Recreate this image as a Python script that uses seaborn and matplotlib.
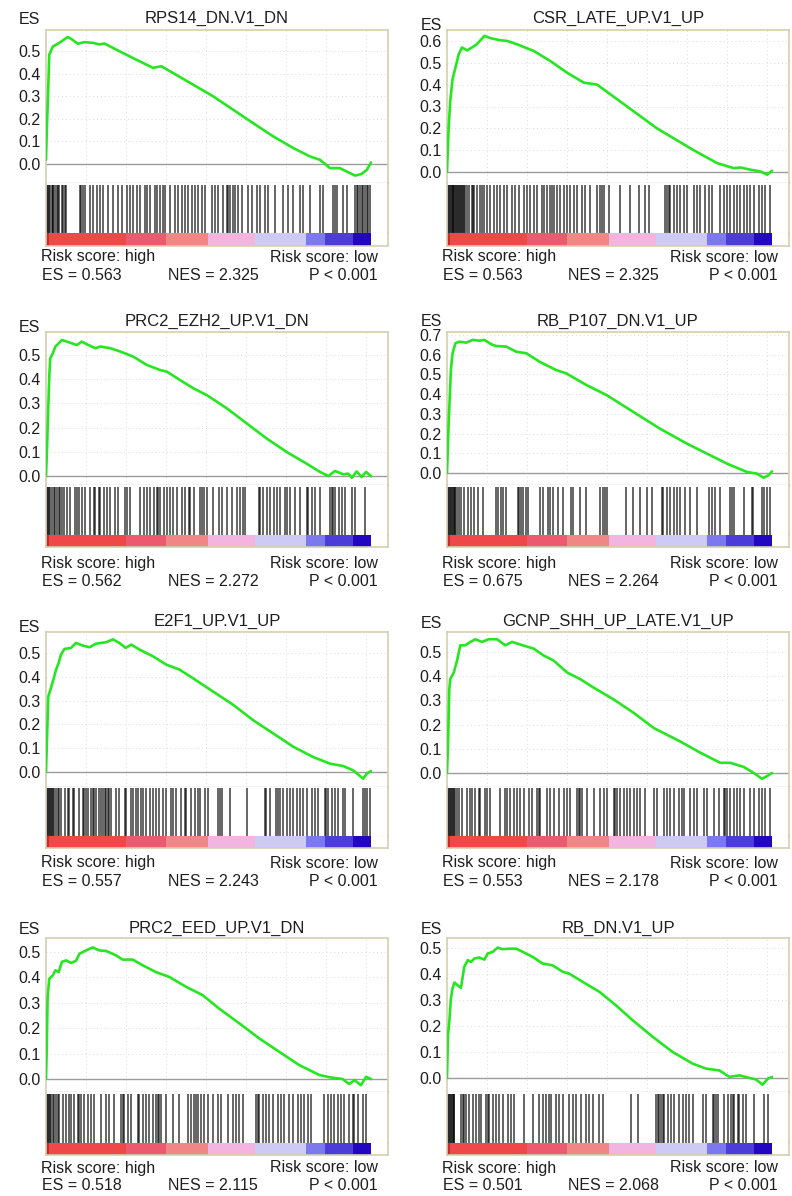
import numpy as np
import matplotlib
matplotlib.use("Agg")
import matplotlib.pyplot as plt
from matplotlib.colors import ListedColormap
import seaborn as sns

sns.set_theme(style="white")
plt.rcParams["font.family"] = ["Liberation Sans", "DejaVu Sans"]

# ---------------------------------------------------------------- data
gene_sets = ["RPS14_DN.V1_DN", "CSR_LATE_UP.V1_UP", "PRC2_EZH2_UP.V1_DN", "RB_P107_DN.V1_UP",
             "E2F1_UP.V1_UP", "GCNP_SHH_UP_LATE.V1_UP", "PRC2_EED_UP.V1_DN", "RB_DN.V1_UP"]
es_labels = ["0.563", "0.563", "0.562", "0.675", "0.557", "0.553", "0.518", "0.501"]
nes_labels = ["2.325", "2.325", "2.272", "2.264", "2.243", "2.178", "2.115", "2.068"]
p_label = "P < 0.001"
side_labels = ["Risk score: high", "Risk score: low"]
y_tick_top = [0.5, 0.6, 0.5, 0.7, 0.5, 0.5, 0.5, 0.5]
y_limits = [(-0.085, 0.594), (-0.05, 0.65), (-0.037, 0.595), (-0.061, 0.715),
            (-0.063, 0.588), (-0.058, 0.583), (-0.051, 0.555), (-0.054, 0.538)]

# running enrichment score (rank position in a list scaled to 0..1000)
rps14_rank = [0, 3, 7, 10, 21, 41, 67, 77, 98, 118, 144, 164, 180, 216, 267, 298, 329, 355, 390,
              452, 514, 576, 637, 699, 761, 812, 843, 874, 904, 925, 951, 971, 987, 1000]
rps14_es = [0.018, 0.17, 0.34, 0.485, 0.52, 0.537, 0.563, 0.555, 0.533, 0.54, 0.537, 0.53, 0.534,
            0.507, 0.47, 0.448, 0.426, 0.433, 0.404, 0.352, 0.30, 0.24, 0.181, 0.122, 0.07, 0.033,
            0.018, -0.019, -0.019, -0.034, -0.052, -0.045, -0.027, 0.006]
csr_rank = [0, 5, 10, 17, 26, 36, 46, 62, 77, 92, 103, 115, 133, 164, 185, 215, 267, 318, 369, 421,
            462, 554, 646, 759, 831, 882, 903, 933, 964, 985, 1000]
csr_es = [0.0, 0.20, 0.325, 0.424, 0.478, 0.539, 0.57, 0.557, 0.57, 0.585, 0.603, 0.623, 0.613,
          0.603, 0.60, 0.585, 0.554, 0.508, 0.455, 0.409, 0.40, 0.30, 0.20, 0.10, 0.041, 0.018,
          0.021, 0.011, 0.003, -0.012, 0.006]
ezh2_rank = [0, 3, 6, 10, 13, 21, 29, 39, 49, 65, 95, 110, 131, 152, 167, 198, 229, 269, 310, 351,
             372, 413, 454, 495, 557, 618, 679, 741, 802, 843, 869, 889, 915, 930, 941, 956, 971,
             985, 1000]
ezh2_es = [0.0, 0.106, 0.244, 0.41, 0.486, 0.507, 0.535, 0.548, 0.562, 0.555, 0.541, 0.555, 0.541,
           0.528, 0.535, 0.528, 0.514, 0.493, 0.459, 0.438, 0.431, 0.396, 0.362, 0.334, 0.279,
           0.217, 0.155, 0.099, 0.051, 0.017, 0.0, 0.021, 0.007, 0.01, -0.007, 0.019, -0.004,
           0.017, -0.001]
p107_rank = [0, 2, 5, 9, 12, 17, 26, 38, 59, 79, 100, 115, 136, 151, 182, 213, 244, 285, 336, 367,
             429, 491, 573, 655, 738, 800, 862, 923, 953, 974, 989, 1000]
p107_es = [0.0, 0.098, 0.251, 0.403, 0.522, 0.607, 0.658, 0.666, 0.661, 0.675, 0.671, 0.675, 0.653,
           0.644, 0.641, 0.615, 0.607, 0.564, 0.522, 0.505, 0.446, 0.395, 0.31, 0.225, 0.149,
           0.098, 0.047, 0.005, -0.003, -0.024, -0.012, 0.008]
e2f1_rank = [0, 3, 7, 15, 24, 31, 39, 46, 57, 77, 92, 113, 134, 154, 185, 206, 226, 245, 262, 288,
             329, 370, 411, 452, 514, 576, 637, 699, 761, 822, 874, 915, 945, 976, 987, 1000]
e2f1_es = [0.0, 0.134, 0.317, 0.352, 0.394, 0.43, 0.458, 0.493, 0.517, 0.521, 0.542, 0.531, 0.524,
           0.539, 0.545, 0.557, 0.542, 0.521, 0.535, 0.514, 0.486, 0.451, 0.43, 0.394, 0.338,
           0.282, 0.218, 0.162, 0.106, 0.063, 0.035, 0.025, 0.007, -0.028, -0.007, 0.004]
gcnp_rank = [0, 3, 7, 10, 21, 31, 41, 56, 72, 87, 108, 128, 154, 179, 200, 226, 267, 297, 328, 369,
             410, 451, 513, 574, 636, 718, 779, 841, 872, 913, 944, 969, 985, 1000]
gcnp_es = [0.0, 0.109, 0.346, 0.388, 0.416, 0.465, 0.528, 0.528, 0.542, 0.553, 0.542, 0.553, 0.553,
           0.528, 0.542, 0.531, 0.514, 0.486, 0.465, 0.416, 0.388, 0.353, 0.304, 0.249, 0.186,
           0.13, 0.084, 0.042, 0.042, 0.025, 0.0, -0.024, -0.013, 0.0]
eed_rank = [0, 2, 5, 10, 21, 29, 39, 49, 62, 77, 92, 103, 123, 144, 164, 185, 215, 236, 267, 297,
            338, 379, 431, 482, 533, 595, 656, 718, 779, 841, 872, 913, 933, 949, 969, 985, 1000]
eed_es = [0.0, 0.1, 0.323, 0.395, 0.408, 0.428, 0.421, 0.461, 0.467, 0.457, 0.465, 0.493, 0.506,
          0.518, 0.506, 0.504, 0.487, 0.47, 0.47, 0.448, 0.421, 0.402, 0.363, 0.33, 0.277, 0.219,
          0.16, 0.107, 0.055, 0.016, 0.007, 0.0, -0.02, -0.004, -0.024, 0.009, 0.0]
rbdn_rank = [0, 3, 7, 12, 17, 23, 33, 43, 53, 64, 74, 84, 99, 115, 125, 141, 156, 171, 192, 212,
             233, 264, 294, 325, 356, 376, 418, 469, 520, 571, 633, 694, 756, 797, 838, 869, 900,
             931, 951, 971, 987, 1000]
rbdn_es = [0.0, 0.164, 0.215, 0.305, 0.344, 0.367, 0.356, 0.346, 0.427, 0.453, 0.446, 0.459, 0.463,
           0.455, 0.478, 0.485, 0.501, 0.495, 0.497, 0.497, 0.485, 0.465, 0.44, 0.433, 0.408,
           0.401, 0.369, 0.331, 0.279, 0.222, 0.158, 0.1, 0.055, 0.036, 0.029, 0.004, 0.01, 0.0,
           -0.006, -0.026, -0.003, 0.004]

# positions of gene-set members in the ranked list
rps14_hits = [4, 7, 10, 12, 17, 21, 23, 28, 33, 37, 41, 49, 53, 58, 62, 105, 108, 115, 120, 135,
              146, 156, 166, 176, 192, 207, 223, 233, 248, 258, 269, 279, 289, 305, 310, 320, 335,
              341, 351, 361, 366, 382, 397, 407, 417, 428, 438, 448, 458, 469, 479, 489, 510, 520,
              530, 546, 556, 561, 566, 576, 582, 592, 602, 623, 633, 648, 658, 674, 684, 705, 730,
              746, 761, 782, 792, 812, 843, 853, 884, 889, 894, 915, 925, 951, 956, 961, 966, 971,
              976, 982, 987, 992, 997]
csr_hits = [3, 5, 8, 11, 14, 17, 19, 22, 25, 28, 31, 34, 36, 39, 42, 45, 48, 51, 56, 62, 67, 77,
            80, 84, 92, 103, 108, 113, 123, 133, 144, 154, 164, 174, 185, 200, 210, 221, 236, 246,
            256, 267, 277, 292, 297, 308, 318, 323, 328, 338, 349, 359, 369, 379, 390, 400, 415,
            426, 441, 462, 472, 477, 482, 497, 533, 564, 590, 610, 621, 672, 677, 682, 687, 697,
            708, 718, 728, 738, 759, 769, 779, 795, 805, 815, 841, 851, 862, 872, 882, 892, 903,
            913, 923, 933, 944, 959, 969, 979, 995]
ezh2_hits = [3, 6, 10, 13, 18, 24, 29, 34, 39, 44, 49, 54, 65, 75, 90, 95, 100, 111, 121, 136,
             147, 152, 162, 167, 177, 188, 198, 213, 223, 244, 249, 259, 290, 300, 310, 321, 331,
             341, 346, 351, 362, 372, 382, 392, 403, 418, 428, 439, 444, 454, 474, 480, 485, 495,
             515, 531, 541, 556, 572, 587, 597, 607, 613, 654, 659, 669, 679, 690, 700, 710, 720,
             736, 741, 751, 766, 782, 802, 807, 818, 828, 843, 874, 879, 884, 889, 900, 910, 920,
             941, 951, 982]
p107_hits = [2, 5, 8, 11, 14, 17, 21, 24, 26, 30, 36, 43, 53, 64, 74, 84, 95, 110, 151, 156, 167,
             172, 182, 218, 223, 228, 234, 242, 249, 285, 295, 311, 316, 326, 342, 357, 383, 388,
             408, 429, 470, 480, 486, 491, 552, 573, 594, 614, 630, 660, 666, 676, 686, 697, 707,
             717, 733, 748, 769, 805, 815, 825, 841, 871, 877, 882, 913, 938, 943, 969, 974, 985,
             995]
e2f1_hits = [3, 6, 9, 12, 15, 18, 21, 26, 31, 36, 41, 46, 57, 67, 72, 82, 87, 103, 113, 118, 123,
             128, 139, 144, 149, 154, 164, 170, 175, 180, 185, 190, 195, 200, 216, 226, 242, 247,
             262, 267, 277, 283, 293, 298, 308, 319, 329, 339, 349, 360, 370, 385, 391, 401, 416,
             427, 432, 447, 457, 468, 473, 488, 498, 529, 534, 540, 565, 617, 673, 678, 689, 709,
             714, 719, 730, 740, 750, 761, 771, 781, 791, 802, 817, 827, 838, 858, 863, 868, 879,
             889, 899, 915, 920, 946, 976, 982, 987, 997]
gcnp_hits = [3, 6, 9, 12, 15, 18, 22, 26, 31, 36, 46, 62, 72, 77, 87, 97, 103, 118, 123, 133, 164,
             179, 185, 195, 205, 215, 226, 236, 251, 262, 277, 282, 287, 308, 318, 328, 344, 359,
             369, 379, 400, 405, 410, 415, 431, 451, 472, 482, 492, 513, 518, 523, 533, 544, 554,
             564, 574, 585, 595, 610, 636, 646, 667, 677, 687, 697, 713, 723, 728, 749, 759, 769,
             790, 800, 821, 836, 851, 856, 862, 872, 882, 892, 903, 913, 933, 944, 959, 969, 979,
             995]
eed_hits = [1, 4, 7, 10, 13, 16, 21, 26, 31, 36, 41, 51, 62, 72, 77, 87, 97, 103, 108, 118, 128,
            138, 149, 169, 185, 195, 210, 231, 236, 241, 251, 262, 282, 287, 297, 308, 318, 328,
            338, 344, 349, 354, 369, 390, 410, 436, 446, 456, 462, 467, 477, 487, 497, 513, 528,
            538, 559, 574, 585, 595, 605, 646, 651, 656, 667, 677, 687, 697, 713, 723, 733, 749,
            759, 774, 785, 795, 805, 815, 856, 867, 877, 887, 897, 908, 918, 933, 944, 949, 959,
            974, 985]
rbdn_hits = [2, 5, 8, 11, 14, 17, 21, 23, 43, 48, 53, 58, 69, 79, 89, 99, 105, 120, 125, 130, 141,
             151, 161, 171, 187, 197, 207, 238, 264, 284, 294, 305, 315, 320, 335, 346, 356, 376,
             387, 397, 412, 428, 438, 448, 469, 479, 566, 587, 643, 648, 653, 658, 664, 669, 679,
             689, 699, 715, 725, 735, 746, 756, 787, 797, 817, 823, 828, 833, 853, 864, 874, 879,
             884, 894, 899, 910, 920, 946, 976, 987]

# ranked-list metric colour bar: segment boundaries and colours
strip_edges = [0, 10, 246, 370, 498, 642, 801, 857, 945, 1000]
strip_colors = ["#c42c2c", "#ef4848", "#ec5a70", "#f08686", "#f3b4df", "#cdcbf6",
                "#7c79ef", "#4c3cd8", "#2206c0"]

curves = [(rps14_rank, rps14_es), (csr_rank, csr_es), (ezh2_rank, ezh2_es), (p107_rank, p107_es),
          (e2f1_rank, e2f1_es), (gcnp_rank, gcnp_es), (eed_rank, eed_es), (rbdn_rank, rbdn_es)]
hits = [rps14_hits, csr_hits, ezh2_hits, p107_hits, e2f1_hits, gcnp_hits, eed_hits, rbdn_hits]

# ---------------------------------------------------------------- layout (pixels)
W, H = 792, 1196
fig = plt.figure(figsize=(W / 100, H / 100), dpi=100)
fig.patch.set_facecolor("white")


def rect(x0, y0, x1, y1):
    return [x0 / W, 1 - y1 / H, (x1 - x0) / W, (y1 - y0) / H]


def fx(x):
    return x / W


def fy(y):
    return 1 - y / H


rows = [dict(title=18, top=30, sep=183, strip=233, bottom=246, t1=257, t2=275),
        dict(title=321, top=332, sep=485, strip=535, bottom=547, t1=563, t2=582),
        dict(title=621, top=632, sep=787, strip=836, bottom=848, t1=863, t2=882),
        dict(title=928, top=938, sep=1092, strip=1143, bottom=1155, t1=1168, t2=1185)]
cols = [dict(left=46, data_right=371, right=388, label=40, text_l=41, nes=213, text_r=378),
        dict(left=447, data_right=772, right=789, label=442, text_l=442, nes=613, text_r=778)]
es_label_dy = [[2, 7], [7, 1], [7, 3], [2, 1]]

FRAME = "#d5ceb0"
SEP = "#a8a8a8"
TEXT = "#1e1e1e"
GREEN = "#26e622"
FS = 11.5

ranks = np.arange(1000)
seg_index = np.searchsorted(np.array(strip_edges[1:-1]), ranks + 0.5, side="right")
strip_matrix = seg_index[None, :]
strip_cmap = ListedColormap(strip_colors)

for i, name in enumerate(gene_sets):
    r = rows[i // 2]
    c = cols[i % 2]
    xmax = 1000 * (c["right"] - c["left"]) / (c["data_right"] - c["left"])

    # running enrichment score
    ax_e = fig.add_axes(rect(c["left"], r["top"], c["right"], r["sep"]))
    xr, ye = curves[i]
    sns.lineplot(x=xr, y=ye, ax=ax_e, color=GREEN, lw=1.9, estimator=None, sort=False, zorder=3)
    ax_e.axhline(0, color="#9c9c9c", lw=1.0, zorder=2)
    ax_e.set_xlim(0, xmax)
    ax_e.set_ylim(*y_limits[i])
    yt = np.round(np.arange(0, y_tick_top[i] + 0.001, 0.1), 1)
    ax_e.set_yticks(yt)
    ax_e.set_yticklabels([f"{v:.1f}" for v in yt], fontsize=FS, color=TEXT)
    ax_e.set_xticks(np.arange(123, xmax, 123))
    ax_e.set_xticklabels([])
    ax_e.tick_params(length=0, pad=4)
    ax_e.grid(True, ls=(0, (1, 3)), color="#dadada", lw=0.7)
    ax_e.set_xlabel("")
    ax_e.set_ylabel("")
    for s in ["top", "left", "right"]:
        ax_e.spines[s].set_color(FRAME)
        ax_e.spines[s].set_linewidth(1.2)
    ax_e.spines["bottom"].set_color(SEP)
    ax_e.spines["bottom"].set_linewidth(0.9)

    # hit positions
    ax_h = fig.add_axes(rect(c["left"], r["sep"], c["right"], r["strip"]))
    ax_h.vlines(hits[i], 0, 0.97, color="black", lw=1.3, alpha=0.65)
    ax_h.set_xlim(0, xmax)
    ax_h.set_ylim(0, 1)
    ax_h.set_xticks([])
    ax_h.set_yticks([])
    ax_h.spines["top"].set_visible(False)
    for s in ["left", "right"]:
        ax_h.spines[s].set_color(FRAME)
        ax_h.spines[s].set_linewidth(1.2)
    ax_h.spines["bottom"].set_color("#c8c8c8")
    ax_h.spines["bottom"].set_linewidth(0.8)

    # ranked metric colour bar
    ax_s = fig.add_axes(rect(c["left"], r["strip"], c["right"], r["bottom"]))
    sns.heatmap(strip_matrix, ax=ax_s, cmap=strip_cmap, vmin=-0.5, vmax=len(strip_colors) - 0.5,
                cbar=False, xticklabels=False, yticklabels=False)
    ax_s.set_xlim(0, xmax)
    ax_s.set_ylim(1, 0)
    for s in ["left", "right", "bottom"]:
        ax_s.spines[s].set_visible(True)
        ax_s.spines[s].set_color(FRAME)
        ax_s.spines[s].set_linewidth(1.2)
    ax_s.spines["top"].set_visible(False)

    # texts
    fig.text(fx((c["left"] + c["right"]) / 2), fy(r["title"]), name, ha="center", va="center",
             fontsize=12, color=TEXT)
    fig.text(fx(c["label"]), fy(r["title"] + es_label_dy[i // 2][i % 2]), "ES", ha="right",
             va="center", fontsize=FS, color=TEXT)
    fig.text(fx(c["text_l"]), fy(r["t1"]), side_labels[0], ha="left", va="center",
             fontsize=FS, color=TEXT)
    fig.text(fx(c["text_r"]), fy(r["t1"]), side_labels[1], ha="right", va="center",
             fontsize=FS, color=TEXT)
    fig.text(fx(c["text_l"] + 1), fy(r["t2"]), f"ES = {es_labels[i]}", ha="left", va="center",
             fontsize=FS, color=TEXT)
    fig.text(fx(c["nes"]), fy(r["t2"]), f"NES = {nes_labels[i]}", ha="center", va="center",
             fontsize=FS, color=TEXT)
    fig.text(fx(c["text_r"]), fy(r["t2"]), p_label, ha="right", va="center",
             fontsize=FS, color=TEXT)

fig.savefig("out.png", dpi=100, facecolor="white")
